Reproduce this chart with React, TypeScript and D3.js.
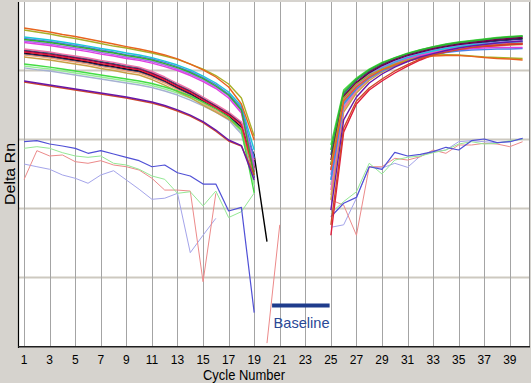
import React from "react";
import * as d3 from "d3";

// ---- axes ----
const cyclesLeft = [1, 2, 3, 4, 5, 6, 7, 8, 9, 10, 11, 12, 13, 14, 15, 16, 17, 18, 19, 20, 21];
const cyclesRight = [25, 26, 27, 28, 29, 30, 31, 32, 33, 34, 35, 36, 37, 38, 39, 40];
const xTickLabels = [1, 3, 5, 7, 9, 11, 13, 15, 17, 19, 21, 23, 25, 27, 29, 31, 33, 35, 37, 39];
const yGridValues = [1, 0.1, 0.01, 0.001];
const baselineRange = [20.4, 24.9];

// ---- amplification curves (Delta Rn), cycles 1..19 and 25..40 ----
const orangeLeft = [4.13, 3.86, 3.61, 3.33, 3.11, 2.86, 2.63, 2.42, 2.22, 2.05, 1.87, 1.68, 1.47, 1.24, 1.02, 0.805, 0.576, 0.327, 0.0984];
const orangeRight = [0.0361, 0.361, 0.576, 0.805, 1.02, 1.2, 1.37, 1.52, 1.62, 1.65, 1.65, 1.6, 1.54, 1.49, 1.47, 1.42];
const oliveLeft = [3.86, 3.61, 3.38, 3.11, 2.91, 2.68, 2.46, 2.26, 2.12, 1.95, 1.79, 1.62, 1.45, 1.24, 1.05, 0.846, 0.637, 0.399, 0.112];
const oliveRight = [0.0427, 0.399, 0.637, 0.861, 1.05, 1.24, 1.42, 1.57, 1.68, 1.7, 1.68, 1.62, 1.57, 1.54, 1.52, 1.49];
const cyanLeft = [3.06, 2.91, 2.77, 2.59, 2.42, 2.26, 2.08, 1.95, 1.79, 1.68, 1.54, 1.37, 1.2, 1.02, 0.832, 0.659, 0.488, 0.306, 0.0704];
const cyanRight = [0.0259, 0.338, 0.576, 0.832, 1.07, 1.31, 1.54, 1.73, 1.92, 2.08, 2.22, 2.34, 2.42, 2.5, 2.59, 2.63];
const blueLeft = [2.91, 2.77, 2.63, 2.46, 2.3, 2.15, 1.98, 1.85, 1.7, 1.6, 1.47, 1.31, 1.14, 0.967, 0.791, 0.626, 0.456, 0.286, 0.0539];
const blueRight = [0.0259, 0.327, 0.539, 0.778, 0.984, 1.18, 1.37, 1.54, 1.68, 1.82, 1.92, 1.98, 2.01, 2.05, 2.05, 2.08];
const greenLeft = [2.81, 2.68, 2.55, 2.38, 2.22, 2.08, 1.92, 1.79, 1.65, 1.54, 1.42, 1.26, 1.1, 0.935, 0.765, 0.596, 0.441, 0.268, 0.0306];
const greenRight = [0.0704, 0.488, 0.753, 1.02, 1.28, 1.52, 1.76, 1.98, 2.19, 2.38, 2.55, 2.68, 2.81, 2.96, 3.06, 3.16];
const violetLeft = [2.68, 2.55, 2.42, 2.26, 2.12, 1.98, 1.82, 1.7, 1.57, 1.47, 1.35, 1.2, 1.05, 0.89, 0.728, 0.576, 0.427, 0.259, 0.0427];
const violetRight = [0.0306, 0.373, 0.616, 0.875, 1.12, 1.35, 1.57, 1.76, 1.95, 2.12, 2.26, 2.38, 2.46, 2.55, 2.63, 2.68];
const magentaLeft = [2.55, 2.42, 2.3, 2.15, 2.01, 1.88, 1.73, 1.62, 1.49, 1.4, 1.28, 1.14, 1.0, 0.846, 0.692, 0.548, 0.399, 0.242, 0.0361];
const magentaRight = [0.0361, 0.373, 0.596, 0.832, 1.05, 1.26, 1.47, 1.65, 1.79, 1.92, 2.01, 2.08, 2.12, 2.15, 2.15, 2.15];
const pinkLeft = [2.05, 1.95, 1.85, 1.73, 1.62, 1.52, 1.4, 1.31, 1.2, 1.12, 0.967, 0.805, 0.648, 0.53, 0.413, 0.322, 0.25, 0.179, 0.0504];
const pinkRight = [0.0185, 0.286, 0.521, 0.778, 1.02, 1.24, 1.47, 1.68, 1.85, 2.01, 2.15, 2.26, 2.34, 2.42, 2.46, 2.5];
const tealLeft = [1.98, 1.88, 1.79, 1.68, 1.57, 1.47, 1.35, 1.26, 1.16, 1.09, 0.935, 0.778, 0.626, 0.513, 0.399, 0.311, 0.242, 0.174, 0.0427];
const tealRight = [0.0596, 0.456, 0.728, 0.984, 1.24, 1.49, 1.73, 1.95, 2.15, 2.34, 2.5, 2.63, 2.77, 2.91, 3.01, 3.11];
const plumLeft = [1.92, 1.82, 1.73, 1.62, 1.52, 1.42, 1.31, 1.22, 1.12, 1.05, 0.905, 0.753, 0.606, 0.496, 0.386, 0.301, 0.234, 0.168, 0.0386];
const plumRight = [0.0504, 0.427, 0.681, 0.951, 1.2, 1.45, 1.68, 1.88, 2.08, 2.26, 2.42, 2.55, 2.68, 2.81, 2.91, 3.01];
const redLeft = [1.85, 1.76, 1.68, 1.57, 1.47, 1.37, 1.26, 1.18, 1.09, 1.02, 0.875, 0.728, 0.586, 0.48, 0.373, 0.291, 0.226, 0.162, 0.0338];
const redRight = [0.0041, 0.128, 0.327, 0.521, 0.704, 0.92, 1.16, 1.42, 1.68, 1.85, 1.98, 2.12, 2.22, 2.3, 2.38, 2.42];
const blackLeft = [1.79, 1.7, 1.62, 1.52, 1.42, 1.33, 1.22, 1.14, 1.05, 0.984, 0.846, 0.704, 0.567, 0.464, 0.361, 0.281, 0.219, 0.152, 0.0596, 0.0033];
const blackRight = [0.0427, 0.413, 0.659, 0.92, 1.16, 1.4, 1.62, 1.82, 2.01, 2.19, 2.34, 2.46, 2.59, 2.72, 2.81, 2.91];
const navyLeft = [1.73, 1.65, 1.57, 1.47, 1.37, 1.28, 1.18, 1.1, 1.02, 0.951, 0.818, 0.681, 0.548, 0.449, 0.349, 0.272, 0.212, 0.147, 0.0277];
const navyRight = [0.0361, 0.386, 0.637, 0.905, 1.14, 1.37, 1.6, 1.79, 1.98, 2.15, 2.3, 2.42, 2.55, 2.68, 2.77, 2.86];
const salmonLeft = [1.68, 1.6, 1.52, 1.42, 1.33, 1.24, 1.14, 1.07, 0.984, 0.92, 0.791, 0.659, 0.53, 0.434, 0.338, 0.263, 0.205, 0.142, 0.0361];
const salmonRight = [0.0157, 0.268, 0.504, 0.753, 0.984, 1.2, 1.42, 1.62, 1.79, 1.95, 2.08, 2.19, 2.26, 2.34, 2.38, 2.42];
const tanLeft = [1.57, 1.49, 1.42, 1.33, 1.24, 1.16, 1.07, 1.0, 0.92, 0.861, 0.74, 0.616, 0.496, 0.406, 0.316, 0.25, 0.198, 0.137, 0.0306];
const tanRight = [0.0133, 0.25, 0.472, 0.716, 0.951, 1.16, 1.37, 1.57, 1.73, 1.88, 2.01, 2.12, 2.19, 2.26, 2.34, 2.38];
const limeLeft = [1.24, 1.18, 1.12, 1.05, 0.984, 0.92, 0.861, 0.805, 0.753, 0.704, 0.648, 0.576, 0.504, 0.427, 0.349, 0.281, 0.212, 0.137, 0.0168];
const limeRight = [0.0832, 0.521, 0.778, 1.05, 1.31, 1.54, 1.79, 2.01, 2.22, 2.42, 2.59, 2.72, 2.86, 3.01, 3.11, 3.16];
const mintLeft = [1.16, 1.1, 1.05, 0.984, 0.92, 0.861, 0.805, 0.753, 0.704, 0.659, 0.606, 0.539, 0.472, 0.399, 0.327, 0.268, 0.205, 0.128, 0.0219];
const mintRight = [0.0219, 0.316, 0.557, 0.805, 1.05, 1.28, 1.52, 1.7, 1.88, 2.05, 2.19, 2.3, 2.38, 2.46, 2.55, 2.59];
const slateLeft = [1.09, 1.03, 0.984, 0.92, 0.861, 0.805, 0.753, 0.704, 0.659, 0.616, 0.567, 0.504, 0.441, 0.373, 0.306, 0.25, 0.192, 0.12, 0.0259];
const slateRight = [0.0219, 0.306, 0.539, 0.791, 1.03, 1.26, 1.49, 1.68, 1.85, 2.01, 2.15, 2.26, 2.34, 2.42, 2.5, 2.55];
const purpleLeft = [0.704, 0.659, 0.616, 0.576, 0.539, 0.504, 0.472, 0.441, 0.413, 0.38, 0.349, 0.311, 0.268, 0.226, 0.182, 0.137, 0.0984, 0.0818, 0.0259];
const purpleRight = [0.0095, 0.192, 0.413, 0.659, 0.89, 1.12, 1.35, 1.57, 1.76, 1.95, 2.12, 2.26, 2.38, 2.5, 2.59, 2.68];
const rustLeft = [0.681, 0.637, 0.596, 0.557, 0.521, 0.488, 0.456, 0.427, 0.399, 0.367, 0.338, 0.301, 0.259, 0.219, 0.176, 0.132, 0.0951, 0.0805, 0.0306];
const rustRight = [0.0058, 0.147, 0.361, 0.557, 0.753, 0.984, 1.22, 1.47, 1.68, 1.85, 2.01, 2.15, 2.26, 2.34, 2.42, 2.46];

// ---- low (non-amplifying) wells ----
const blueThinLeft = [0.0929, 0.0961, 0.086, 0.0805, 0.0745, 0.0631, 0.0689, 0.0616, 0.0552, 0.0493, 0.0403, 0.0427, 0.033, 0.0296, 0.0226, 0.0226, 0.0092, 0.0104, 0.00031];
const blueThinRight = [0.0076, 0.0119, 0.0145, 0.0403, 0.037, 0.0652, 0.0577, 0.061, 0.0666, 0.0771, 0.0704, 0.0961, 0.1017, 0.0899, 0.0929, 0.104];
const greenThinLeft = [0.0745, 0.0787, 0.0745, 0.0644, 0.0577, 0.0552, 0.0577, 0.0452, 0.0427, 0.037, 0.0296, 0.0265, 0.0166, 0.0175, 0.0109, 0.0179, 0.0074, 0.009, 0.0168];
const greenThinRight = [0.0086, 0.0126, 0.0175, 0.0452, 0.0316, 0.0504, 0.0552, 0.0577, 0.0644, 0.0704, 0.086, 0.0929, 0.086, 0.0881, 0.0961, 0.1007];
const pinkThinLeft = [0.0265, 0.0689, 0.0577, 0.0596, 0.0477, 0.0452, 0.0493, 0.0427, 0.0403, 0.0361, 0.0274, 0.0185, 0.0185, 0.0179, 0.00087, 0.0166, null, null, null, 0.000112, 0.0058];
const pinkThinRight = [0.0133, 0.0112, 0.0041, 0.0403, 0.0403, 0.0534, 0.0504, 0.0563, 0.0704, 0.0631, 0.0832, 0.0832, 0.0881, 0.086, 0.0787, 0.0929];
const lavenderThinLeft = [0.0441, 0.0403, 0.037, 0.0306, 0.0274, 0.0232, 0.0306, 0.0353, 0.0259, 0.019, 0.0136, 0.0141, 0.0166, 0.00229, 0.0041, 0.0072];
const lavenderThinRight = [0.00534, 0.0058, 0.0141, 0.0403, 0.0386, 0.0452, 0.0395, 0.0577, 0.0666, 0.0704, 0.0929, 0.0961, 0.0929, 0.0899, 0.0929, 0.104];

type Series = { left: (number | null)[]; right: (number | null)[]; color: string; width: number };

const thinSeries: Series[] = [
  { left: lavenderThinLeft, right: lavenderThinRight, color: "#a4a4ea", width: 1 },
  { left: pinkThinLeft, right: pinkThinRight, color: "#ec8a8a", width: 1 },
  { left: greenThinLeft, right: greenThinRight, color: "#94e894", width: 1 },
  { left: blueThinLeft, right: blueThinRight, color: "#5050d6", width: 1.2 },
];

const mainSeries: Series[] = [
  { left: blackLeft, right: blackRight, color: "#000000", width: 1.4 },
  { left: navyLeft, right: navyRight, color: "#283070", width: 1.4 },
  { left: tealLeft, right: tealRight, color: "#1a7a7a", width: 1.4 },
  { left: plumLeft, right: plumRight, color: "#780050", width: 1.4 },
  { left: mintLeft, right: mintRight, color: "#94ee94", width: 1.4 },
  { left: slateLeft, right: slateRight, color: "#a6b2d2", width: 1.4 },
  { left: salmonLeft, right: salmonRight, color: "#f0a078", width: 1.4 },
  { left: tanLeft, right: tanRight, color: "#c8a048", width: 1.4 },
  { left: limeLeft, right: limeRight, color: "#44dc44", width: 1.4 },
  { left: pinkLeft, right: pinkRight, color: "#f070a8", width: 1.4 },
  { left: redLeft, right: redRight, color: "#e01c3c", width: 1.4 },
  { left: violetLeft, right: violetRight, color: "#b068f0", width: 1.4 },
  { left: cyanLeft, right: cyanRight, color: "#1cc8d8", width: 1.4 },
  { left: blueLeft, right: blueRight, color: "#4a80e8", width: 1.4 },
  { left: magentaLeft, right: magentaRight, color: "#e040e0", width: 1.4 },
  { left: greenLeft, right: greenRight, color: "#30b030", width: 1.4 },
  { left: oliveLeft, right: oliveRight, color: "#a8b028", width: 1.4 },
  { left: orangeLeft, right: orangeRight, color: "#e8641e", width: 1.4 },
  { left: rustLeft, right: rustRight, color: "#d04828", width: 1.4 },
  { left: purpleLeft, right: purpleRight, color: "#6818a8", width: 1.4 },
];

export default function App() {
  const W = 531;
  const H = 383;
  const pl = 19, pr = 529, pt = 2, pb = 347;
  const x = d3.scaleLinear().domain([0.6, 40.5]).range([pl, pr]);
  const y = d3.scaleLog().domain([1e-4, 10]).range([346.5, 1.5]);
  const line = d3
    .line<[number, number | null]>()
    .defined((d) => d[1] != null)
    .x((d) => x(d[0]))
    .y((d) => y(d[1] as number));
  const pts = (cycles: number[], vals: (number | null)[]) =>
    vals.map((v, i) => [cycles[i], v] as [number, number | null]);

  const renderSeries = (s: Series, k: string) => (
    <g key={k}>
      <path d={line(pts(cyclesLeft, s.left)) || ""} fill="none" stroke={s.color} strokeWidth={s.width} strokeLinejoin="round" />
      <path d={line(pts(cyclesRight, s.right)) || ""} fill="none" stroke={s.color} strokeWidth={s.width} strokeLinejoin="round" />
    </g>
  );

  const font = "'Liberation Sans', Arial, sans-serif";

  return (
    <svg width={W} height={H} style={{ position: "absolute", left: 0, top: 0 }} xmlns="http://www.w3.org/2000/svg">
      <defs>
        <clipPath id="plotClip">
          <rect x={pl} y={pt} width={pr - pl} height={pb - pt} />
        </clipPath>
      </defs>
      <rect x={0} y={0} width={W} height={H} fill="#d6d3ce" />
      <rect x={pl} y={pt} width={pr - pl} height={pb - pt} fill="#ffffff" />
      {/* horizontal grid */}
      {yGridValues.map((v) => (
        <line key={"h" + v} x1={pl} x2={pr} y1={y(v)} y2={y(v)} stroke="#cdc9c0" strokeWidth={2} />
      ))}
      {/* vertical grid */}
      {xTickLabels.map((c) => (
        <line key={"v" + c} x1={Math.round(x(c)) + 0.5} x2={Math.round(x(c)) + 0.5} y1={pt} y2={pb} stroke="#a4a4a4" strokeWidth={1} />
      ))}
      <g clipPath="url(#plotClip)">
        {thinSeries.map((s, i) => renderSeries(s, "t" + i))}
        {mainSeries.map((s, i) => renderSeries(s, "m" + i))}
      </g>
      {/* baseline annotation */}
      <rect x={x(baselineRange[0])} y={303.5} width={x(baselineRange[1]) - x(baselineRange[0])} height={4} fill="#1f3c8c" />
      <text x={x(baselineRange[0]) + 1.5} y={327.5} fontFamily={font} fontSize={15} fill="#2a4896" textLength={56} lengthAdjust="spacingAndGlyphs">
        Baseline
      </text>
      {/* frame */}
      <line x1={pr + 0.5} x2={pr + 0.5} y1={pt} y2={pb} stroke="#8a8a8a" strokeWidth={1} />
      <line x1={18.5} x2={18.5} y1={pt} y2={pb + 1} stroke="#000000" strokeWidth={1.2} />
      <line x1={18} x2={pr + 1} y1={346.8} y2={346.8} stroke="#202020" strokeWidth={1.5} />
      {/* tick labels */}
      {xTickLabels.map((c) => (
        <text key={"tl" + c} x={x(c)} y={363.5} textAnchor="middle" fontFamily={font} fontSize={12} fill="#000">
          {c}
        </text>
      ))}
      <text x={203} y={380} fontFamily={font} fontSize={15} fill="#000" textLength={82} lengthAdjust="spacingAndGlyphs">
        Cycle Number
      </text>
      <text transform="translate(15,174) rotate(-90)" textAnchor="middle" fontFamily={font} fontSize={15} fill="#000" textLength={62} lengthAdjust="spacingAndGlyphs">
        Delta Rn
      </text>
    </svg>
  );
}
